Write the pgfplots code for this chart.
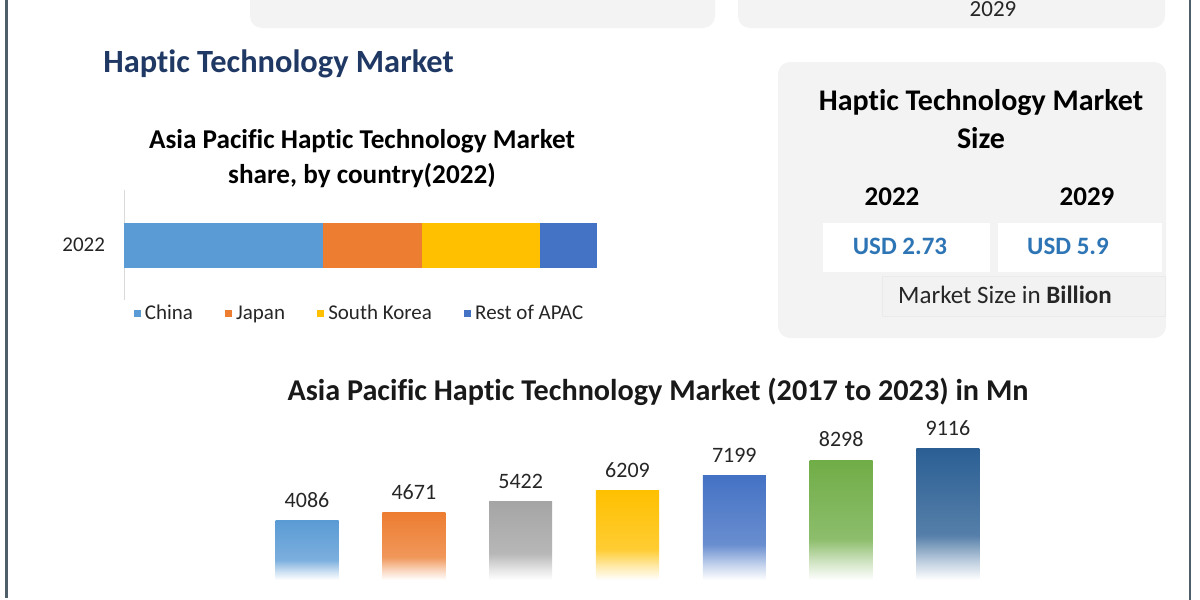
\documentclass[border=0pt]{standalone}
\usepackage{pgfplots}
\pgfplotsset{compat=1.18}
\usepackage{fontspec}
\setmainfont{Carlito}[Ligatures=NoCommon]
\definecolor{navy}{HTML}{1F3864}
\definecolor{cA}{HTML}{5B9BD5}
\definecolor{cB}{HTML}{ED7D31}
\definecolor{cC}{HTML}{A5A5A5}
\definecolor{cD}{HTML}{FFC000}
\definecolor{cE}{HTML}{4472C4}
\definecolor{cF}{HTML}{70AD47}
\definecolor{cG}{HTML}{2B5F94}
\definecolor{usd}{HTML}{2E75B6}
\definecolor{panel}{HTML}{F3F3F3}
\definecolor{frame}{HTML}{4F5F6A}
\newcommand\mkshade[2]{%
 \colorlet{#1l}{#2!30!white}%
 \colorlet{#1m}{#2!80!white}%
 \pgfdeclareverticalshading{#1}{100bp}{color(0bp)=(white); color(25bp)=(white); color(32bp)=(#1l); color(42bp)=(#1m); color(75bp)=(#2); color(100bp)=(#2)}}
\mkshade{shA}{cA}
\mkshade{shB}{cB}
\mkshade{shC}{cC}
\mkshade{shD}{cD}
\mkshade{shE}{cE}
\mkshade{shF}{cF}
\mkshade{shG}{cG}
\newcommand\fs[1]{\fontsize{#1}{#1}\selectfont}
\begin{document}
\begin{tikzpicture}[x=0.5pt,y=-0.5pt]
\useasboundingbox (0,0) rectangle (1200,600);
\fill[white] (0,0) rectangle (1200,600);
% top boxes (cropped)
\begin{scope}
\clip (0,0) rectangle (1200,600);
\fill[panel, rounded corners=6pt] (250,-40) rectangle (715,28);
\fill[panel, rounded corners=6pt] (738,-40) rectangle (1165,28);
\node[font=\fs{11.5}, inner sep=0pt, text=black!85] at (993,9) {2029};
\end{scope}
% frame lines
\draw[frame, line width=1.5pt] (6,0) -- (6,598);
\draw[frame, line width=0.9pt] (1190,0) -- (1190,600);
% main title
\node[anchor=west, inner sep=0pt, font=\fs{16.2}\bfseries, text=navy] at (103,64) {Haptic Technology Market};
% left chart title
\node[inner sep=0pt, font=\fs{13.6}\bfseries] at (362,141) {Asia Pacific Haptic Technology Market};
\node[inner sep=0pt, font=\fs{13.6}\bfseries] at (362,176) {share, by country(2022)};
% right panel
\fill[panel, rounded corners=6pt] (778,62) rectangle (1166,338);
\node[inner sep=0pt, font=\fs{15}\bfseries] at (981,103) {Haptic Technology Market};
\node[inner sep=0pt, font=\fs{15}\bfseries] at (981,138) {Size};
\node[inner sep=0pt, font=\fs{13.5}\bfseries] at (892,197) {2022};
\node[inner sep=0pt, font=\fs{13.5}\bfseries] at (1087,197) {2029};
\fill[white] (823,223) rectangle (990,272);
\fill[white] (998,223) rectangle (1162,272);
\node[inner sep=0pt, font=\fs{12.5}\bfseries, text=usd] at (900,246) {USD 2.73};
\node[inner sep=0pt, font=\fs{12.5}\bfseries, text=usd] at (1068,246) {USD 5.9};
\filldraw[fill=black!5, draw=black!8] (882,276) rectangle (1165,316);
\node[inner sep=0pt, font=\fs{12.5}, text=black!85] at (1005,295) {Market Size in \textbf{Billion}};
% bottom title
\node[inner sep=0pt, font=\fs{15.1}\bfseries, text=black!90] at (658,392) {Asia Pacific Haptic Technology Market (2017 to 2023) in Mn};
% stacked share chart
\coordinate (A1) at (124,300);
\begin{axis}[at={(A1)}, anchor=south west, scale only axis,
  width=236.5pt, height=55pt,
  xbar stacked, bar width=22.5pt,
  xmin=0, xmax=100, ymin=-1, ymax=1,
  ytick={0}, yticklabels={2022},
  axis x line=none, axis y line*=left,
  y axis line style={draw=black!15},
  major tick length=0pt,
  yticklabel style={font=\fs{10.5}, text=black!85, xshift=-6pt},
  legend columns=4,
  legend style={at={(0.5,0.03)}, anchor=north, draw=none, fill=none,
    font=\fs{10.5}, text=black!85,
    /tikz/every even column/.append style={column sep=14pt}},
  ]
\addplot[fill=cA, draw=none, legend image code/.code={\fill[cA] (0pt,-1.8pt) rectangle (3.6pt,1.8pt);}] coordinates {(42,0)};
\addlegendentry{China}
\addplot[fill=cB, draw=none, legend image code/.code={\fill[cB] (0pt,-1.8pt) rectangle (3.6pt,1.8pt);}] coordinates {(21,0)};
\addlegendentry{Japan}
\addplot[fill=cD, draw=none, legend image code/.code={\fill[cD] (0pt,-1.8pt) rectangle (3.6pt,1.8pt);}] coordinates {(25,0)};
\addlegendentry{South Korea}
\addplot[fill=cE, draw=none, legend image code/.code={\fill[cE] (0pt,-1.8pt) rectangle (3.6pt,1.8pt);}] coordinates {(12,0)};
\addlegendentry{Rest of APAC}
\end{axis}
% yearly bar chart
\coordinate (A2) at (253.6,580);
\begin{axis}[at={(A2)}, anchor=south west, scale only axis,
  width=373.9pt, height=72.25pt,
  xmin=-0.5, xmax=6.5, ymin=0, ymax=10000,
  axis lines=none, clip=false,
  ybar, bar width=31.5pt, bar shift=0pt,
  nodes near coords={\pgfmathprintnumber[fixed, precision=0, 1000 sep={}, assume math mode=true]{\pgfplotspointmeta}},
  every node near coord/.append style={font=\fs{11}, text=black!85, yshift=3pt},
  ]
\addplot[draw=none, shade, shading=shA, bar shift=0pt] coordinates {(0,4086)};
\addplot[draw=none, shade, shading=shB, bar shift=0pt] coordinates {(1,4671)};
\addplot[draw=none, shade, shading=shC, bar shift=0pt] coordinates {(2,5422)};
\addplot[draw=none, shade, shading=shD, bar shift=0pt] coordinates {(3,6209)};
\addplot[draw=none, shade, shading=shE, bar shift=0pt] coordinates {(4,7199)};
\addplot[draw=none, shade, shading=shF, bar shift=0pt] coordinates {(5,8298)};
\addplot[draw=none, shade, shading=shG, bar shift=0pt] coordinates {(6,9116)};
\end{axis}
\end{tikzpicture}
\end{document}
